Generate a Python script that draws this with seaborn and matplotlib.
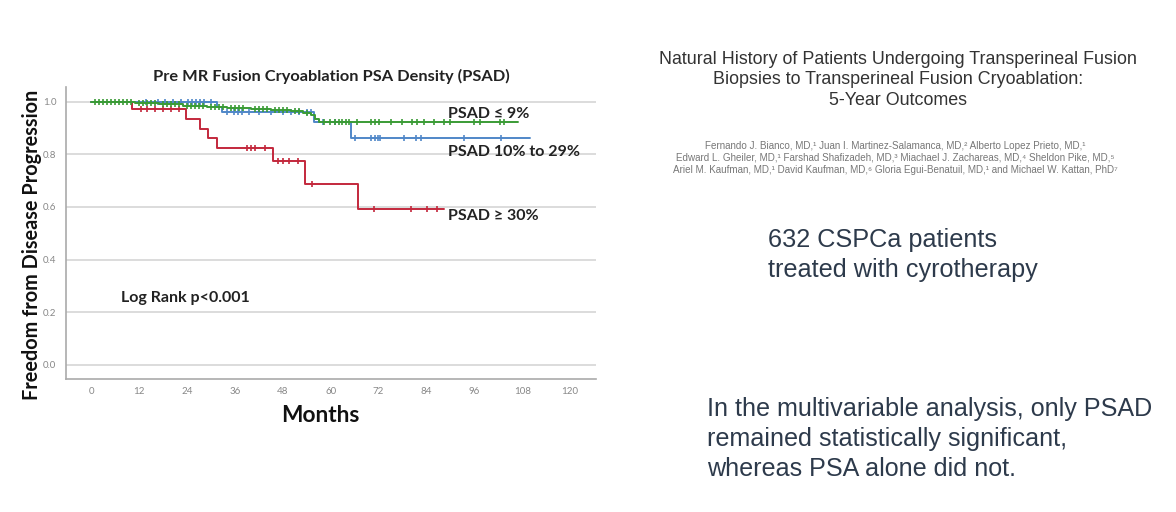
import numpy as np
import pandas as pd
import matplotlib
matplotlib.use("Agg")
import matplotlib.pyplot as plt
import seaborn as sns

# ---------------- data ----------------
x_ticks = [0, 12, 24, 36, 48, 60, 72, 84, 96, 108, 120]
y_ticks = [0.0, 0.2, 0.4, 0.6, 0.8, 1.0]

green_times = [0, 11, 17, 23, 29, 34, 40, 45, 50, 53, 55, 56, 57]
green_surv = [1.0, 0.995, 0.99, 0.985, 0.98, 0.975, 0.971, 0.967, 0.963, 0.958, 0.948, 0.935, 0.924]
green_end = 107
green_cens = [1, 2, 3, 4, 5, 6, 7, 8, 9, 10, 12, 13, 14, 15, 16, 18, 19, 20, 21, 22, 24, 25, 26, 27,
              28, 30, 31, 32, 33, 35, 36, 37, 38, 41, 42, 43, 44, 46, 47, 48, 49, 51, 52, 54,
              58.2, 59.9, 61.1, 62, 62.8, 63.7, 64.5, 66.6, 70, 71.2, 72, 75, 77.9, 80.4, 81.6,
              83.3, 85.8, 88.3, 90, 95.8, 97.5, 102.5, 103.4]

blue_times = [0, 31.4, 32.7, 55.7, 65.0]
blue_surv = [1.0, 0.98, 0.96, 0.922, 0.862]
blue_end = 110
blue_cens = [13.7, 16.6, 18.5, 20.4, 22.4, 24.3, 25.2, 26.2, 27.1, 28.1, 30, 33.9, 35.8, 36.8,
             37.7, 39.6, 42, 45, 48, 50, 52, 54, 55, 58, 61, 66, 70, 71.2, 71.8, 72.3, 78.3,
             81.3, 82.5, 93.4, 102.6]

red_times = [0, 10.2, 23.6, 27.2, 29.3, 31.4, 45.5, 53.6, 66.8]
red_surv = [1.0, 0.972, 0.935, 0.897, 0.861, 0.824, 0.774, 0.687, 0.591]
red_end = 88.4
red_cens = [12.3, 14, 16, 18, 20, 22, 39, 40, 41, 43.6, 46.8, 48, 49.4, 51.9, 55.3, 70.8, 80,
            84.2, 86.7]

series_labels = ["PSAD ≤ 9%", "PSAD 10% to 29%", "PSAD ≥ 30%"]

# ---------------- style ----------------
sns.set_theme(style="white")
plt.rcParams["font.family"] = ["Lato", "DejaVu Sans"]

fig = plt.figure(figsize=(11.76, 5.12), dpi=100)
ax = fig.add_axes([0.0561, 0.2598, 0.4507, 0.5709])

colors = {"green": "#3a9b35", "blue": "#5087c8", "red": "#c3283c"}


def km_frame(times, surv, end):
    t = list(times) + [end]
    s = list(surv) + [surv[-1]]
    return pd.DataFrame({"t": t, "s": s})


def cens_frame(cens, times, surv):
    idx = np.searchsorted(np.asarray(times), np.asarray(cens), side="right") - 1
    return pd.DataFrame({"t": cens, "s": np.asarray(surv)[idx]})


for key, times, surv, end, cens, z in [
    ("red", red_times, red_surv, red_end, red_cens, 3),
    ("blue", blue_times, blue_surv, blue_end, blue_cens, 4),
    ("green", green_times, green_surv, green_end, green_cens, 5),
]:
    df = km_frame(times, surv, end)
    sns.lineplot(data=df, x="t", y="s", ax=ax, color=colors[key], lw=1.4,
                 drawstyle="steps-post", zorder=z, estimator=None, sort=False)
    cf = cens_frame(cens, times, surv)
    sns.scatterplot(data=cf, x="t", y="s", ax=ax, color=colors[key], marker="|",
                    s=14, linewidth=1.2, zorder=z + 0.5)

ax.set_xlim(-6.4, 126.5)
ax.set_ylim(-0.054, 1.057)
ax.set_xticks(x_ticks)
ax.set_xticklabels([str(v) for v in x_ticks])
ax.set_yticks(y_ticks)
ax.set_yticklabels([f"{v:.1f}" for v in y_ticks])
ax.tick_params(axis="both", labelsize=7, colors="#888888", length=0, pad=6)
ax.tick_params(axis="y", length=4, width=1, color="#cccccc", pad=3)
ax.yaxis.grid(True, color="#d9d9d9", lw=1.3)
ax.xaxis.grid(False)
for side in ["top", "right"]:
    ax.spines[side].set_visible(False)
for side in ["left", "bottom"]:
    ax.spines[side].set_color("#aaaaaa")
    ax.spines[side].set_linewidth(1.2)

ax.set_xlabel("Months", fontsize=16.3, fontweight="bold", color="#111111")
ax.xaxis.set_label_coords(0.479, -0.124)
ax.xaxis.label.set_va("center")
ax.set_ylabel("Freedom from Disease Progression", fontsize=14.3, fontweight="bold",
              color="#111111")
ax.yaxis.set_label_coords(-0.064, 0.458)
ax.yaxis.label.set_va("center")
ax.set_title("Pre MR Fusion Cryoablation PSA Density (PSAD)", fontsize=11.8,
             fontweight="bold", color="#222222", pad=4)

lab_kw = dict(fontsize=11.5, fontweight="bold", color="#222222", va="center", ha="left")
ax.text(89.3, 0.955, series_labels[0], **lab_kw)
ax.text(89.3, 0.81, series_labels[1], **lab_kw)
ax.text(89.3, 0.565, series_labels[2], **lab_kw)
ax.text(7.3, 0.255, "Log Rank p<0.001", fontsize=11.5, fontweight="bold", color="#222222",
        va="center", ha="left")

# ---------------- right-hand text ----------------
sans = ["Liberation Sans", "DejaVu Sans"]
fig.text(898 / 1176, 1 - 80 / 512, "Natural History of Patients Undergoing Transperineal Fusion\n"
         "Biopsies to Transperineal Fusion Cryoablation:\n5-Year Outcomes",
         family=sans, fontsize=12.9, color="#333333", ha="center", va="center",
         linespacing=1.3)
authors = ("Fernando J. Bianco, MD,¹ Juan I. Martinez-Salamanca, MD,² Alberto Lopez Prieto, MD,¹\n"
           "Edward L. Gheiler, MD,¹ Farshad Shafizadeh, MD,³ Miachael J. Zachareas, MD,⁴ Sheldon Pike, MD,⁵\n"
           "Ariel M. Kaufman, MD,¹ David Kaufman, MD,⁶ Gloria Egui-Benatuil, MD,¹ and Michael W. Kattan, PhD⁷")
fig.text(895 / 1176, 1 - 158 / 512, authors, family=sans, fontsize=7.1, color="#777777",
         ha="center", va="center", linespacing=1.3)

fig.text(768 / 1176, 1 - 255 / 512, "632 CSPCa patients\ntreated with cyrotherapy",
         family=sans, fontsize=18.2, color="#2d3a4b", ha="left", va="center",
         linespacing=1.35)
fig.text(707 / 1176, 1 - 439 / 512,
         "In the multivariable analysis, only PSAD\nremained statistically significant,\n"
         "whereas PSA alone did not.",
         family=sans, fontsize=18.1, color="#2d3a4b", ha="left", va="center",
         linespacing=1.3)

fig.savefig("out.png", dpi=100, facecolor="white")
